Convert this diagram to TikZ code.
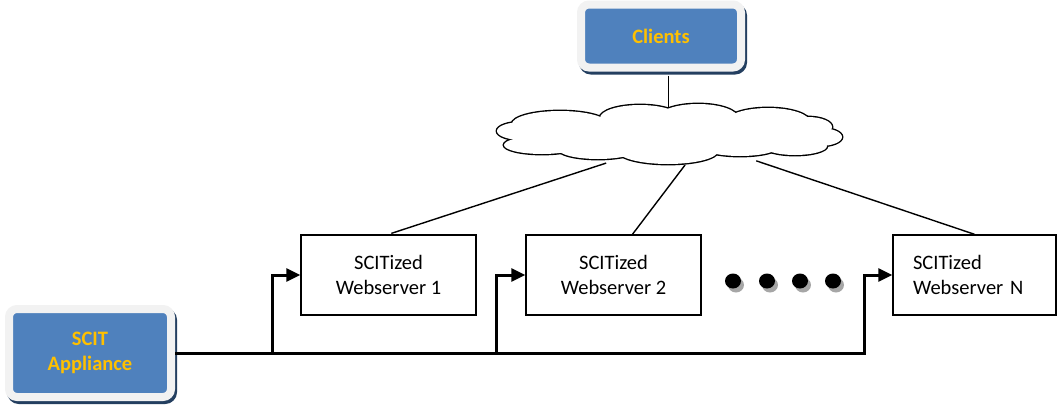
\documentclass[tikz,border=0pt]{standalone}
\usepackage{fontspec}
\setmainfont{Carlito}
\usetikzlibrary{shapes.geometric,arrows.meta}
\definecolor{boxblue}{HTML}{4F81BD}
\definecolor{labelgold}{HTML}{FFC000}
\definecolor{shadenavy}{HTML}{243F60}
\definecolor{framegray}{HTML}{F2F2F2}
\tikzset{
	bluebox/.style={rectangle, rounded corners=8pt, fill=boxblue, draw=framegray, line width=8pt,
		preaction={draw=shadenavy, line width=8pt, transform canvas={shift={(2pt,-3pt)}}},
		text=labelgold, font=\fontsize{20.5}{25}\selectfont\bfseries, align=center},
	serverbox/.style={rectangle, draw, line width=1.4pt, minimum height=80pt,
		font=\fontsize{20.5}{25}\selectfont},
	feed/.style={line width=3pt, -{Triangle[length=14pt,width=13pt]}},
	link/.style={line width=1.4pt},
}
\begin{document}
\begin{tikzpicture}[x=1pt,y=-1pt]
	\useasboundingbox (0,0) rectangle (1058,405);
	% clients and appliance
	\node[bluebox, minimum width=160pt, minimum height=63pt] (clients) at (661,36) {Clients};
	\node[bluebox, minimum width=162pt, minimum height=88pt] (appl) at (90,353) {SCIT\\Appliance};
	% outline of the cloud, used for the anchors
	\node[ellipse, inner sep=0pt, minimum width=343pt, minimum height=62pt] (cloud) at (668.5,134) {};
	% webservers
	\path
	(388.5,275) node[serverbox, minimum width=175pt, align=center] (ws1) {SCITized\\Webserver 1}
	(613.5,275) node[serverbox, minimum width=175pt, align=center] (ws2) {SCITized\\Webserver 2}
	(974.5,275) node[serverbox, minimum width=163pt, text width=123pt, align=left] (wsn) {SCITized\\Webserver N}
	;
	% clients to cloud, lower end hidden by the cloud
	\draw[link, shorten <=4pt] (clients.south -| cloud.north) -- (cloud.center);
	% cloud puffs: thick outline first, then white fill on top
	\foreach \pass in {1,2} {
		\ifnum\pass=1 \tikzset{puff/.style={draw, line width=2.8pt, fill=white}}
		\else \tikzset{puff/.style={fill=white}}\fi
		\foreach \cx/\cy/\rx/\ry in {560/124/48/13, 640/118/40/13, 698/118/40/14, 768/122/42/14,
			522/131/25/9, 542/145/38/9, 808/127/24/10, 820/137/22/9, 795/146/32/9,
			598/149/40/10, 668/151/50/13, 740/147/38/9}
			\path[puff] (\cx,\cy) ellipse [x radius=\rx, y radius=\ry];
	}
	\fill[white] (668,136) ellipse [x radius=120, y radius=15];
	\fill[white] (792,135.5) ellipse [x radius=12, y radius=4];
	% dots between servers
	\foreach \dx in {733,767,800,833} {
		\fill[gray!70] (\dx+3,285) ellipse [x radius=8, y radius=7.5];
		\fill (\dx,281) ellipse [x radius=8, y radius=7.5];
	}
	% links to the cloud
	\draw[link, shorten >=3pt] (cloud.205) -- (ws1.north);
	\draw[link] (cloud.298) -- (ws2.65);
	\draw[link] (cloud.343) -- (wsn.north);
	% feeds from the appliance
	\draw[feed] (appl.east) -| ([xshift=-28pt]ws1.west) -- (ws1.west);
	\draw[feed] (appl.east) -| ([xshift=-29pt]ws2.west) -- (ws2.west);
	\draw[feed] (appl.east) -| ([xshift=-28pt]wsn.west) -- (wsn.west);
\end{tikzpicture}
\end{document}
